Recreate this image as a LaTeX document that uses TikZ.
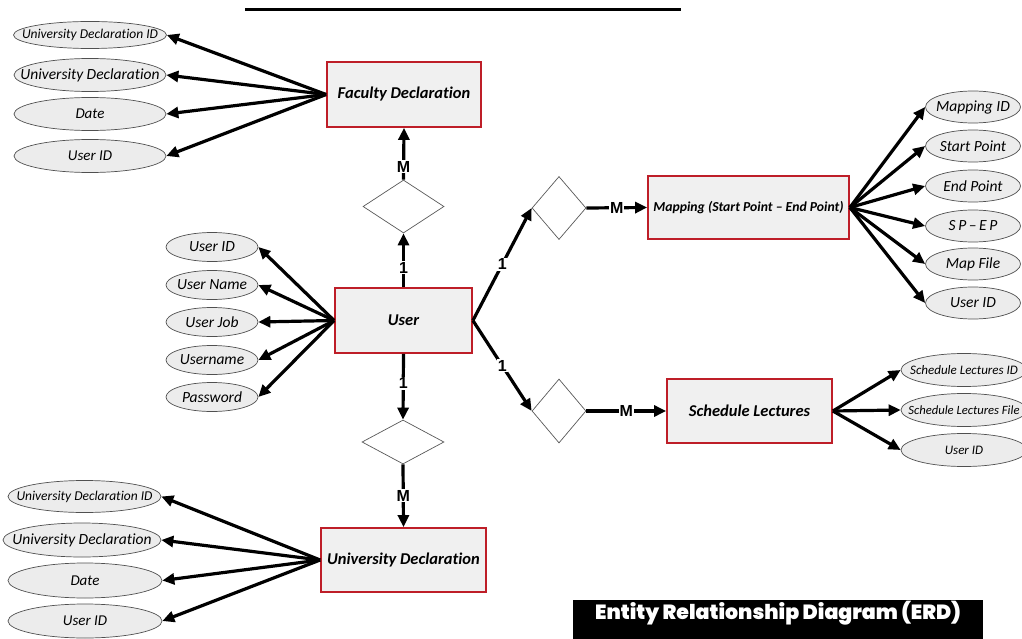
\documentclass[tikz,border=0pt]{standalone}
\usepackage{fontspec}
\setmainfont{Carlito}[Ligatures=NoCommon]
\newfontfamily\lblfont{Liberation Sans}
\IfFontExistsTF{Poppins Black}{\newfontfamily\titlefont{Poppins Black}}{\newfontfamily\titlefont{Poppins}[UprightFont=*-Bold,BoldFont=*-Bold]}
\usetikzlibrary{shapes.geometric,arrows.meta}
\definecolor{boxred}{RGB}{190,30,40}
\definecolor{boxfill}{RGB}{240,240,240}
\definecolor{ellfill}{RGB}{236,236,236}
\definecolor{ellline}{RGB}{80,80,80}
\begin{document}
\begin{tikzpicture}[x=1pt,y=-1pt,
 entity/.style={rectangle, draw=boxred, line width=1.8pt, fill=boxfill, inner sep=0pt, font=\bfseries\itshape\fontsize{16.5}{18}\selectfont},
 attr/.style={ellipse, draw=ellline, line width=0.7pt, fill=ellfill, inner sep=0pt, font=\itshape\fontsize{15}{17}\selectfont,
   execute at begin node={\hbox to 0pt\bgroup\hss}, execute at end node={\hss\egroup}},
 rel/.style={diamond, draw=gray!70!black, line width=0.7pt, fill=white, inner sep=0pt},
 conn/.style={line width=3.2pt, -{Triangle[length=12pt,width=11pt]}},
 card/.style={fill=white, inner sep=1pt, font=\lblfont\bfseries\fontsize{16}{17}\selectfont}
]
\useasboundingbox (0,0) rectangle (1022,639);
\clip (0,0) rectangle (1022,639);

% top rule
\coordinate (rl) at (245,10);
\coordinate (rr) at (681,10);
\draw[line width=3pt] (rl) -- (rr);

% entities
\node[entity, minimum width=154pt, minimum height=65pt] (fac) at (404,94.5) {Faculty Declaration};
\node[entity, minimum width=137pt, minimum height=65pt] (user) at (403.5,320.5) {User};
\node[entity, minimum width=165pt, minimum height=64pt] (ud) at (403.5,560) {University Declaration};
\node[entity, minimum width=201pt, minimum height=63pt, font=\bfseries\itshape\fontsize{13.7}{15}\selectfont] (map) at (748.5,207.5) {Mapping (Start Point -- End Point)};
\node[entity, minimum width=165pt, minimum height=64pt] (sch) at (749.5,411) {Schedule Lectures};

% relationships
\node[rel, minimum width=81pt, minimum height=53pt] (r1) at (403.5,206.5) {};
\node[rel, minimum width=82pt, minimum height=44pt] (r2) at (403,442) {};
\node[rel, minimum width=54pt, minimum height=63pt] (r3) at (559,208) {};
\node[rel, minimum width=54pt, minimum height=64pt] (r4) at (559,411) {};

% faculty attributes
\node[attr, minimum width=153pt, minimum height=27pt, font=\itshape\fontsize{13.5}{15}\selectfont] (fa1) at (90,35) {University Declaration ID};
\node[attr, minimum width=152pt, minimum height=33pt, font=\itshape\fontsize{15.5}{17}\selectfont] (fa2) at (90,75) {University Declaration};
\node[attr, minimum width=152pt, minimum height=33pt] (fa3) at (90,114) {Date};
\node[attr, minimum width=152pt, minimum height=33pt] (fa4) at (90,156) {User ID};

% user attributes
\node[attr, minimum width=92pt, minimum height=29pt, font=\itshape\fontsize{15.5}{17}\selectfont] (ua1) at (212,247) {User ID};
\node[attr, minimum width=92pt, minimum height=29pt, font=\itshape\fontsize{15.5}{17}\selectfont] (ua2) at (212,285) {User Name};
\node[attr, minimum width=92pt, minimum height=29pt, font=\itshape\fontsize{15.5}{17}\selectfont] (ua3) at (212,322) {User Job};
\node[attr, minimum width=92pt, minimum height=29pt, font=\itshape\fontsize{15.5}{17}\selectfont] (ua4) at (212,360) {Username};
\node[attr, minimum width=92pt, minimum height=29pt, font=\itshape\fontsize{15.5}{17}\selectfont] (ua5) at (212,397) {Password};

% university declaration attributes
\node[attr, minimum width=153pt, minimum height=32pt, font=\itshape\fontsize{13.5}{15}\selectfont] (da1) at (84.5,496.5) {University Declaration ID};
\node[attr, minimum width=158pt, minimum height=34pt, font=\itshape\fontsize{15.5}{17}\selectfont] (da2) at (82,540) {University Declaration};
\node[attr, minimum width=154pt, minimum height=35pt] (da3) at (85,580.5) {Date};
\node[attr, minimum width=154pt, minimum height=34pt] (da4) at (85,621) {User ID};

% mapping attributes
\node[attr, minimum width=95pt, minimum height=32pt, font=\itshape\fontsize{15.5}{17}\selectfont] (ma1) at (973,107) {Mapping ID};
\node[attr, minimum width=95pt, minimum height=32pt, font=\itshape\fontsize{15.5}{17}\selectfont] (ma2) at (973,146) {Start Point};
\node[attr, minimum width=95pt, minimum height=32pt, font=\itshape\fontsize{15.5}{17}\selectfont] (ma3) at (973,186) {End Point};
\node[attr, minimum width=95pt, minimum height=32pt, font=\itshape\fontsize{15.5}{17}\selectfont] (ma4) at (973,226) {S\,P\,--\,E\,P};
\node[attr, minimum width=95pt, minimum height=32pt, font=\itshape\fontsize{15.5}{17}\selectfont] (ma5) at (973,264) {Map File};
\node[attr, minimum width=95pt, minimum height=32pt, font=\itshape\fontsize{15.5}{17}\selectfont] (ma6) at (973,303) {User ID};

% schedule attributes
\node[attr, minimum width=126pt, minimum height=33pt, font=\itshape\fontsize{13}{15}\selectfont] (sa1) at (964,370) {Schedule Lectures ID};
\node[attr, minimum width=126pt, minimum height=33pt, font=\itshape\fontsize{12.6}{15}\selectfont] (sa2) at (964,410) {Schedule Lectures File};
\node[attr, minimum width=126pt, minimum height=33pt, font=\itshape\fontsize{13}{15}\selectfont] (sa3) at (964,450) {User ID};

% attribute connectors
\foreach \a in {fa1,fa2,fa3,fa4} \draw[conn] (fac.west) -- (\a.east);
\foreach \a in {ua1,ua2,ua3,ua4,ua5} \draw[conn] (user.west) -- (\a.east);
\foreach \a in {da1,da2,da3,da4} \draw[conn] (ud.west) -- (\a.east);
\foreach \a in {ma1,ma2,ma3,ma4,ma5,ma6} \draw[conn] (map.east) -- (\a.west);
\foreach \a in {sa1,sa2,sa3} \draw[conn] (sch.east) -- (\a.west);

% relationship connectors
\draw[conn] (r1.north) -- node[card, pos=0.25] {M} (fac.south);
\draw[conn] (user.north) -- node[card, pos=0.36] {1} (r1.south);
\draw[conn] (user.south) -- node[card, pos=0.45] {1} (r2.north);
\draw[conn] (r2.south) -- node[card, pos=0.5] {M} (ud.north);
\draw[conn] (user.east) -- node[card, pos=0.5] {1} (r3.west);
\draw[conn] (user.east) -- node[card, pos=0.5] {1} (r4.west);
\draw[conn] (r3.east) -- node[card, pos=0.5] {M} (map.west);
\draw[conn] (r4.east) -- node[card, pos=0.5] {M} (sch.west);

% title
\node[fill=black, anchor=north, minimum width=410pt, minimum height=60pt, inner sep=0pt] (tbox) at (778,600) {};
\node[text=white, font=\titlefont\fontsize{20.5}{23}\selectfont, inner sep=0pt] (ttl) at (778,613) {Entity Relationship Diagram (ERD)};
\end{tikzpicture}
\end{document}
